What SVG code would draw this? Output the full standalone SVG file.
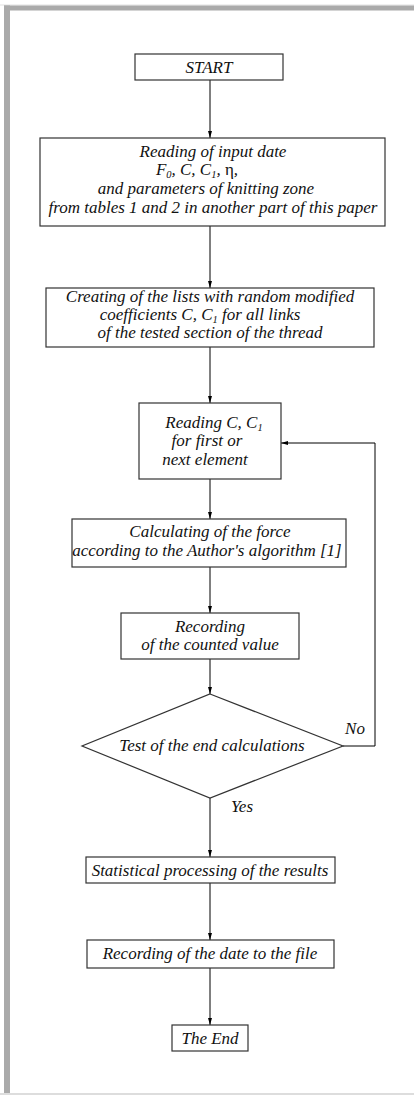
<svg xmlns="http://www.w3.org/2000/svg" width="414" height="1095" viewBox="0 0 414 1095">
<defs>
<style>
.box{fill:#fff;stroke:#333;stroke-width:1.2}
.t{font-family:'Liberation Serif','Times New Roman',serif;font-style:italic;font-size:17px;fill:#111;text-anchor:middle}
.sub{font-size:10.5px}
.up{font-style:normal}
.c{fill:none;stroke:#000;stroke-width:1}
</style>
<marker id="ah" markerWidth="8" markerHeight="6" refX="7" refY="3" orient="auto" markerUnits="userSpaceOnUse">
<path d="M0,1 L7,3 L0,5 Z" fill="#000"/>
</marker>
</defs>
<rect x="0" y="0" width="414" height="1095" fill="#fff"/>
<g id="frame">
<rect x="0" y="4.5" width="414" height="1" fill="#e2e2e2"/>
<rect x="4" y="5.5" width="410" height="5" fill="#aaa"/>
<rect x="4" y="5.5" width="6" height="1088" fill="#aaa"/>
<rect x="0" y="1093" width="414" height="2" fill="#ddd"/>
</g>
<g id="connectors">
<line class="c" x1="210" y1="80" x2="210" y2="138" marker-end="url(#ah)"/>
<line class="c" x1="210" y1="226" x2="210" y2="288" marker-end="url(#ah)"/>
<line class="c" x1="210" y1="347" x2="210" y2="403" marker-end="url(#ah)"/>
<line class="c" x1="210" y1="479" x2="210" y2="519" marker-end="url(#ah)"/>
<line class="c" x1="210" y1="567" x2="210" y2="613" marker-end="url(#ah)"/>
<line class="c" x1="210" y1="659" x2="210" y2="694" marker-end="url(#ah)"/>
<line class="c" x1="210" y1="798" x2="210" y2="857" marker-end="url(#ah)"/>
<line class="c" x1="210" y1="883" x2="210" y2="940" marker-end="url(#ah)"/>
<line class="c" x1="210" y1="968" x2="210" y2="1025" marker-end="url(#ah)"/>
<polyline class="c" points="343,746 375,746 375,443 281,443" marker-end="url(#ah)"/>
<text class="t" x="355" y="734">No</text>
<text class="t" x="242" y="812">Yes</text>
</g>
<g id="start">
<rect class="box" x="135" y="54" width="148" height="26"/>
<text class="t" x="209" y="73">START</text>
</g>
<g id="read-input">
<rect class="box" x="40" y="138" width="345" height="88"/>
<text class="t" x="213" y="157">Reading of input date</text>
<text class="t" x="197" y="175">F<tspan class="sub" dy="3">0</tspan><tspan dy="-3">, C, C</tspan><tspan class="sub" dy="3">1</tspan><tspan dy="-3">, </tspan><tspan class="up">η</tspan>,</text>
<text class="t" x="206" y="194">and parameters of knitting zone</text>
<text class="t" x="213" y="213">from tables 1 and 2 in another part of this paper</text>
</g>
<g id="create-lists">
<rect class="box" x="46" y="288" width="328" height="59"/>
<text class="t" x="210" y="302">Creating of the lists with random modified</text>
<text class="t" x="200" y="320">coefficients C, C<tspan class="sub" dy="3">1</tspan><tspan dy="-3"> for all links</tspan></text>
<text class="t" x="210" y="338">of the tested section of the thread</text>
</g>
<g id="read-c">
<rect class="box" x="139" y="403" width="142" height="76"/>
<text class="t" x="214" y="428">Reading C, C<tspan class="sub" dy="3">1</tspan></text>
<text class="t" x="207" y="446">for first or</text>
<text class="t" x="205" y="465">next element</text>
</g>
<g id="calc-force">
<rect class="box" x="72" y="519" width="274" height="48"/>
<text class="t" x="210" y="537">Calculating of the force</text>
<text class="t" x="207" y="556">according to the Author's algorithm [1]</text>
</g>
<g id="record-value">
<rect class="box" x="121" y="613" width="178" height="46"/>
<text class="t" x="210" y="632">Recording</text>
<text class="t" x="210" y="650">of the counted value</text>
</g>
<g id="test-end">
<polygon class="box" points="210,694 343,746 210,798 82,746"/>
<text class="t" x="212" y="751">Test of the end calculations</text>
</g>
<g id="statistics">
<rect class="box" x="86" y="857" width="249" height="26"/>
<text class="t" x="210" y="876">Statistical processing of the results</text>
</g>
<g id="record-file">
<rect class="box" x="87" y="940" width="247" height="28"/>
<text class="t" x="210" y="959">Recording of the date to the file</text>
</g>
<g id="end">
<rect class="box" x="172" y="1025" width="76" height="26"/>
<text class="t" x="210" y="1044">The End</text>
</g>
</svg>
